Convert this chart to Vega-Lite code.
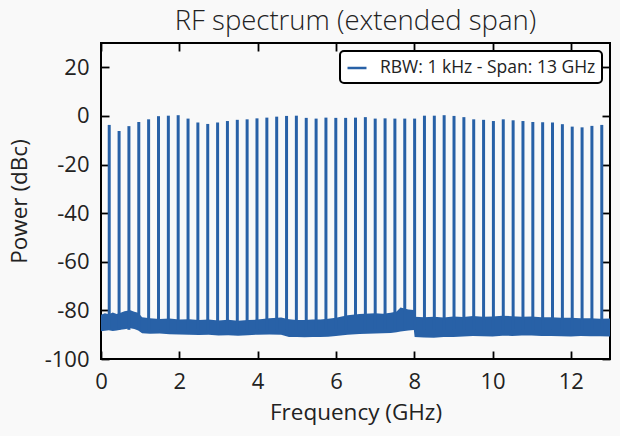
{
  "$schema": "https://vega.github.io/schema/vega-lite/v6.json",
  "width": 509,
  "height": 316,
  "autosize": "none",
  "padding": {"left": 101, "top": 43, "right": 10, "bottom": 77},
  "background": "#f9f9f9",
  "title": {
    "text": "RF spectrum (extended span)",
    "fontSize": 27.5,
    "fontWeight": 300,
    "font": "Open Sans",
    "color": "#222",
    "anchor": "middle",
    "baseline": "alphabetic",
    "offset": 15,
    "dy": 30
  },
  "config": {
    "font": "Open Sans",
    "view": {"stroke": "black", "strokeWidth": 2},
    "axis": {
      "grid": false,
      "domain": false,
      "tickColor": "black",
      "tickWidth": 1.8,
      "tickSize": -8,
      "labelFontSize": 22,
      "labelColor": "#222",
      "labelPadding": 20,
      "labelFlush": false,
      "labelExpr": "replace(datum.label, '\u2212', '-')",
      "titleFontSize": 22.5,
      "titleFontWeight": "normal",
      "titleColor": "#222"
    }
  },
  "datasets": {
    "noise": [
      {"f": 0.0, "hi": -81.8, "lo": -88.6},
      {"f": 0.1, "hi": -81.2, "lo": -88.4},
      {"f": 0.2, "hi": -81.6, "lo": -88.2},
      {"f": 0.3, "hi": -80.9, "lo": -88.5},
      {"f": 0.4, "hi": -81.5, "lo": -88.3},
      {"f": 0.5, "hi": -81.0, "lo": -88.0},
      {"f": 0.6, "hi": -80.4, "lo": -87.8},
      {"f": 0.75, "hi": -79.9, "lo": -87.4},
      {"f": 0.85, "hi": -80.6, "lo": -87.7},
      {"f": 0.95, "hi": -81.0, "lo": -88.3},
      {"f": 1.05, "hi": -82.8, "lo": -89.4},
      {"f": 1.25, "hi": -83.2, "lo": -89.6},
      {"f": 1.5, "hi": -83.5, "lo": -89.5},
      {"f": 1.75, "hi": -83.3, "lo": -89.8},
      {"f": 2.0, "hi": -83.8, "lo": -89.9},
      {"f": 2.25, "hi": -83.6, "lo": -90.0},
      {"f": 2.5, "hi": -84.0, "lo": -90.1},
      {"f": 2.75, "hi": -83.7, "lo": -90.0},
      {"f": 3.0, "hi": -84.2, "lo": -90.3},
      {"f": 3.25, "hi": -83.9, "lo": -90.2},
      {"f": 3.5, "hi": -84.3, "lo": -90.4},
      {"f": 3.75, "hi": -84.0, "lo": -90.2},
      {"f": 4.0, "hi": -83.8, "lo": -90.0},
      {"f": 4.3, "hi": -83.2, "lo": -89.9},
      {"f": 4.6, "hi": -82.9, "lo": -90.0},
      {"f": 4.8, "hi": -83.6, "lo": -90.9},
      {"f": 5.0, "hi": -84.0, "lo": -91.0},
      {"f": 5.2, "hi": -84.0, "lo": -91.1},
      {"f": 5.4, "hi": -83.8, "lo": -90.9},
      {"f": 5.6, "hi": -83.8, "lo": -91.0},
      {"f": 5.8, "hi": -83.4, "lo": -90.8},
      {"f": 6.0, "hi": -83.0, "lo": -90.5},
      {"f": 6.3, "hi": -82.0, "lo": -90.0},
      {"f": 6.6, "hi": -81.5, "lo": -89.7},
      {"f": 7.0, "hi": -81.2, "lo": -89.5},
      {"f": 7.2, "hi": -81.4, "lo": -89.4},
      {"f": 7.4, "hi": -81.0, "lo": -89.3},
      {"f": 7.55, "hi": -80.5, "lo": -89.0},
      {"f": 7.65, "hi": -78.8, "lo": -88.7},
      {"f": 7.75, "hi": -79.2, "lo": -88.5},
      {"f": 7.85, "hi": -79.6, "lo": -88.3},
      {"f": 7.99, "hi": -79.8, "lo": -88.1},
      {"f": 8.01, "hi": -82.6, "lo": -91.0},
      {"f": 8.25, "hi": -82.8, "lo": -91.2},
      {"f": 8.5, "hi": -82.6, "lo": -91.3},
      {"f": 8.75, "hi": -82.9, "lo": -91.0},
      {"f": 9.0, "hi": -82.5, "lo": -90.9},
      {"f": 9.25, "hi": -82.7, "lo": -90.7},
      {"f": 9.5, "hi": -82.3, "lo": -90.5},
      {"f": 9.75, "hi": -82.6, "lo": -90.6},
      {"f": 10.0, "hi": -82.5, "lo": -90.7},
      {"f": 10.25, "hi": -82.2, "lo": -90.4},
      {"f": 10.5, "hi": -82.4, "lo": -90.5},
      {"f": 10.75, "hi": -82.6, "lo": -90.3},
      {"f": 11.0, "hi": -82.5, "lo": -90.3},
      {"f": 11.25, "hi": -82.8, "lo": -90.5},
      {"f": 11.5, "hi": -82.8, "lo": -90.5},
      {"f": 11.75, "hi": -83.0, "lo": -90.6},
      {"f": 12.0, "hi": -83.0, "lo": -90.7},
      {"f": 12.25, "hi": -83.2, "lo": -90.5},
      {"f": 12.5, "hi": -83.2, "lo": -90.6},
      {"f": 12.75, "hi": -83.4, "lo": -90.6},
      {"f": 13.0, "hi": -83.3, "lo": -90.7}
    ],
    "peaks": [
      {"f": 0.210, "top": -3.7, "base": -88, "series": "RBW: 1 kHz - Span: 13 GHz"},
      {"f": 0.462, "top": -6.2, "base": -88, "series": "RBW: 1 kHz - Span: 13 GHz"},
      {"f": 0.713, "top": -4.2, "base": -88, "series": "RBW: 1 kHz - Span: 13 GHz"},
      {"f": 0.965, "top": -2.5, "base": -88, "series": "RBW: 1 kHz - Span: 13 GHz"},
      {"f": 1.216, "top": -1.4, "base": -88, "series": "RBW: 1 kHz - Span: 13 GHz"},
      {"f": 1.468, "top": -0.1, "base": -88, "series": "RBW: 1 kHz - Span: 13 GHz"},
      {"f": 1.720, "top": 0.1, "base": -88, "series": "RBW: 1 kHz - Span: 13 GHz"},
      {"f": 1.971, "top": 0.3, "base": -88, "series": "RBW: 1 kHz - Span: 13 GHz"},
      {"f": 2.223, "top": -1.1, "base": -88, "series": "RBW: 1 kHz - Span: 13 GHz"},
      {"f": 2.474, "top": -2.7, "base": -88, "series": "RBW: 1 kHz - Span: 13 GHz"},
      {"f": 2.726, "top": -3.3, "base": -88, "series": "RBW: 1 kHz - Span: 13 GHz"},
      {"f": 2.978, "top": -2.7, "base": -88, "series": "RBW: 1 kHz - Span: 13 GHz"},
      {"f": 3.229, "top": -2.1, "base": -88, "series": "RBW: 1 kHz - Span: 13 GHz"},
      {"f": 3.481, "top": -1.6, "base": -88, "series": "RBW: 1 kHz - Span: 13 GHz"},
      {"f": 3.732, "top": -1.4, "base": -88, "series": "RBW: 1 kHz - Span: 13 GHz"},
      {"f": 3.984, "top": -1.0, "base": -88, "series": "RBW: 1 kHz - Span: 13 GHz"},
      {"f": 4.236, "top": -0.7, "base": -88, "series": "RBW: 1 kHz - Span: 13 GHz"},
      {"f": 4.487, "top": -0.3, "base": -88, "series": "RBW: 1 kHz - Span: 13 GHz"},
      {"f": 4.739, "top": 0.0, "base": -88, "series": "RBW: 1 kHz - Span: 13 GHz"},
      {"f": 4.990, "top": 0.1, "base": -88, "series": "RBW: 1 kHz - Span: 13 GHz"},
      {"f": 5.242, "top": -0.8, "base": -88, "series": "RBW: 1 kHz - Span: 13 GHz"},
      {"f": 5.494, "top": -1.1, "base": -88, "series": "RBW: 1 kHz - Span: 13 GHz"},
      {"f": 5.745, "top": -0.7, "base": -88, "series": "RBW: 1 kHz - Span: 13 GHz"},
      {"f": 5.997, "top": -0.8, "base": -88, "series": "RBW: 1 kHz - Span: 13 GHz"},
      {"f": 6.248, "top": -0.8, "base": -88, "series": "RBW: 1 kHz - Span: 13 GHz"},
      {"f": 6.500, "top": -0.7, "base": -88, "series": "RBW: 1 kHz - Span: 13 GHz"},
      {"f": 6.752, "top": -0.5, "base": -88, "series": "RBW: 1 kHz - Span: 13 GHz"},
      {"f": 7.003, "top": -1.1, "base": -88, "series": "RBW: 1 kHz - Span: 13 GHz"},
      {"f": 7.255, "top": -1.0, "base": -88, "series": "RBW: 1 kHz - Span: 13 GHz"},
      {"f": 7.506, "top": -1.1, "base": -88, "series": "RBW: 1 kHz - Span: 13 GHz"},
      {"f": 7.758, "top": -1.1, "base": -88, "series": "RBW: 1 kHz - Span: 13 GHz"},
      {"f": 8.010, "top": -1.1, "base": -88, "series": "RBW: 1 kHz - Span: 13 GHz"},
      {"f": 8.261, "top": 0.1, "base": -88, "series": "RBW: 1 kHz - Span: 13 GHz"},
      {"f": 8.513, "top": 0.1, "base": -88, "series": "RBW: 1 kHz - Span: 13 GHz"},
      {"f": 8.764, "top": 0.3, "base": -88, "series": "RBW: 1 kHz - Span: 13 GHz"},
      {"f": 9.016, "top": 0.0, "base": -88, "series": "RBW: 1 kHz - Span: 13 GHz"},
      {"f": 9.268, "top": -0.5, "base": -88, "series": "RBW: 1 kHz - Span: 13 GHz"},
      {"f": 9.519, "top": -1.4, "base": -88, "series": "RBW: 1 kHz - Span: 13 GHz"},
      {"f": 9.771, "top": -1.6, "base": -88, "series": "RBW: 1 kHz - Span: 13 GHz"},
      {"f": 10.022, "top": -2.1, "base": -88, "series": "RBW: 1 kHz - Span: 13 GHz"},
      {"f": 10.274, "top": -1.4, "base": -88, "series": "RBW: 1 kHz - Span: 13 GHz"},
      {"f": 10.526, "top": -1.8, "base": -88, "series": "RBW: 1 kHz - Span: 13 GHz"},
      {"f": 10.777, "top": -2.1, "base": -88, "series": "RBW: 1 kHz - Span: 13 GHz"},
      {"f": 11.029, "top": -2.5, "base": -88, "series": "RBW: 1 kHz - Span: 13 GHz"},
      {"f": 11.280, "top": -2.6, "base": -88, "series": "RBW: 1 kHz - Span: 13 GHz"},
      {"f": 11.532, "top": -2.7, "base": -88, "series": "RBW: 1 kHz - Span: 13 GHz"},
      {"f": 11.784, "top": -3.4, "base": -88, "series": "RBW: 1 kHz - Span: 13 GHz"},
      {"f": 12.035, "top": -4.4, "base": -88, "series": "RBW: 1 kHz - Span: 13 GHz"},
      {"f": 12.287, "top": -4.7, "base": -88, "series": "RBW: 1 kHz - Span: 13 GHz"},
      {"f": 12.538, "top": -4.1, "base": -88, "series": "RBW: 1 kHz - Span: 13 GHz"},
      {"f": 12.790, "top": -3.7, "base": -88, "series": "RBW: 1 kHz - Span: 13 GHz"}
    ]
  },
  "layer": [
    {
      "data": {"name": "noise"},
      "mark": {"type": "area", "color": "#2861a7", "opacity": 1},
      "encoding": {
        "x": {
          "field": "f",
          "type": "quantitative",
          "scale": {"domain": [0, 13], "nice": false},
          "axis": {"orient": "top", "labels": false, "title": null, "values": [0, 2, 4, 6, 8, 10, 12]}
        },
        "y": {
          "field": "hi",
          "type": "quantitative",
          "scale": {"domain": [-100, 30], "nice": false},
          "axis": {"orient": "right", "labels": false, "title": null, "values": [-100, -80, -60, -40, -20, 0, 20]}
        },
        "y2": {"field": "lo"}
      }
    },
    {
      "data": {"name": "peaks"},
      "mark": {"type": "rule", "strokeWidth": 3},
      "encoding": {
        "x": {
          "field": "f",
          "type": "quantitative",
          "axis": {"orient": "bottom", "title": "Frequency (GHz)", "values": [0, 2, 4, 6, 8, 10, 12], "titlePadding": 9}
        },
        "y": {
          "field": "top",
          "type": "quantitative",
          "axis": {"orient": "left", "title": "Power (dBc)", "values": [-100, -80, -60, -40, -20, 0, 20], "titlePadding": 13}
        },
        "y2": {"field": "base"},
        "color": {
          "field": "series",
          "type": "nominal",
          "scale": {"range": ["#2861a7"]},
          "legend": {
            "title": null,
            "orient": "top-right",
            "offset": 8,
            "labelFontSize": 17.5,
            "labelColor": "#222",
            "labelLimit": 400,
            "symbolType": "stroke",
            "symbolSize": 360,
            "symbolStrokeWidth": 2.5,
            "labelOffset": 12,
            "padding": 6,
            "strokeColor": "black",
            "fillColor": "white",
            "cornerRadius": 4,
            "encode": {"legend": {"update": {"strokeWidth": {"value": 2}}}}
          }
        }
      }
    }
  ],
  "resolve": {"axis": {"x": "independent", "y": "independent"}}
}
